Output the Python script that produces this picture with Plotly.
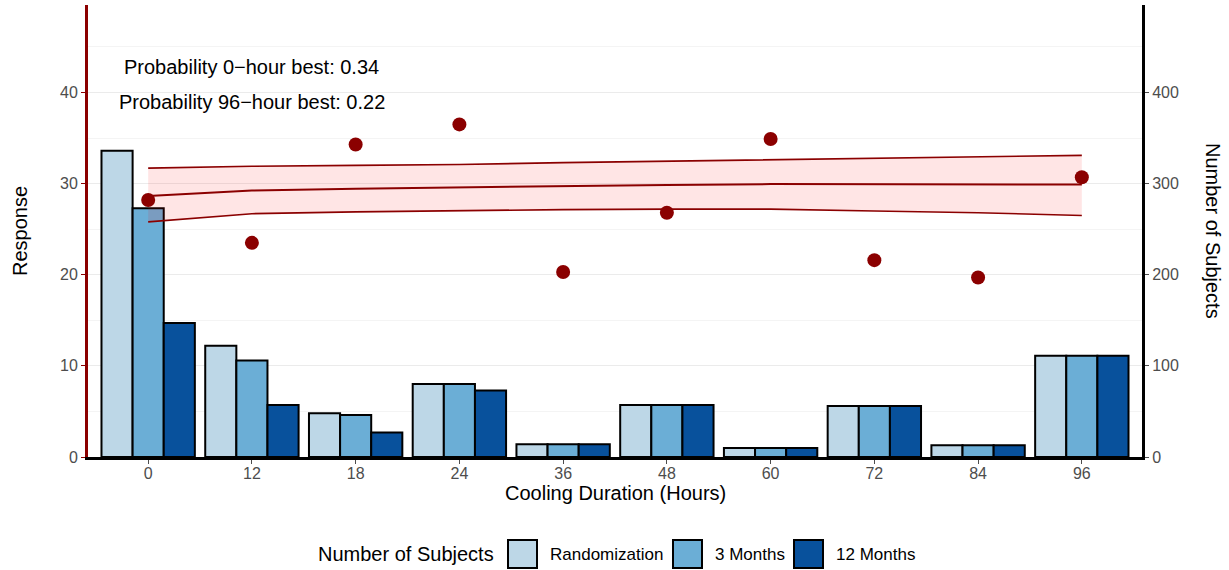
import plotly.graph_objects as go

# --- data -------------------------------------------------------------
hours = ["0", "12", "18", "24", "36", "48", "60", "72", "84", "96"]
positions = list(range(len(hours)))

groups = ["Randomization", "3 Months", "12 Months"]
subjects_randomization = [336, 122, 48, 80, 14, 57, 10, 56, 13, 111]
subjects_3_months = [273, 106, 46, 80, 14, 57, 10, 56, 13, 111]
subjects_12_months = [147, 57, 27, 73, 14, 57, 10, 56, 13, 111]

response_observed = [28.2, 23.5, 34.3, 36.5, 20.3, 26.8, 34.9, 21.6, 19.7, 30.7]
fit_mean = [28.65, 29.25, 29.45, 29.6, 29.75, 29.85, 29.95, 29.95, 29.9, 29.9]
fit_upper = [31.7, 31.9, 32.0, 32.1, 32.3, 32.45, 32.6, 32.75, 32.9, 33.1]
fit_lower = [25.8, 26.7, 26.9, 27.05, 27.15, 27.2, 27.2, 27.0, 26.8, 26.5]

prob_labels = ["Probability 0\u2212hour best: 0.34", "Probability 96\u2212hour best: 0.22"]

# --- styling ----------------------------------------------------------
BLUES = {"Randomization": "#BDD7E7", "3 Months": "#6BAED6", "12 Months": "#08519C"}
DARKRED = "#8B0000"
FONT = "Liberation Sans, Arial, sans-serif"
GREY = "#4D4D4D"

W, H = 1229, 570
ML, MR, MT, MB = 88, 87, 5, 113
PW, PH = W - ML - MR, H - MT - MB


def px_x(x):
    return (x - ML) / PW


def px_y(y):
    return (H - MB - y) / PH


fig = go.Figure()

for name, vals in zip(groups, [subjects_randomization, subjects_3_months, subjects_12_months]):
    fig.add_trace(go.Bar(
        x=positions, y=vals, name=name, yaxis="y", showlegend=False,
        marker=dict(color=BLUES[name], line=dict(color="black", width=2)),
    ))

# ribbon + fitted line on the response axis (drawn above bars)
fig.add_trace(go.Scatter(x=positions, y=fit_lower, yaxis="y2", mode="lines",
                         line=dict(color=DARKRED, width=1.6), showlegend=False))
fig.add_trace(go.Scatter(x=positions, y=fit_upper, yaxis="y2", mode="lines",
                         line=dict(color=DARKRED, width=1.6), fill="tonexty",
                         fillcolor="rgba(255,0,0,0.1)", showlegend=False))
fig.add_trace(go.Scatter(x=positions, y=fit_mean, yaxis="y2", mode="lines",
                         line=dict(color=DARKRED, width=2), showlegend=False))
fig.add_trace(go.Scatter(x=positions, y=response_observed, yaxis="y2", mode="markers",
                         marker=dict(color=DARKRED, size=14), showlegend=False))

for txt, yv in zip(prob_labels, [42.8, 39.0]):
    fig.add_annotation(x=1, y=yv, xref="x", yref="y2", text=txt, showarrow=False,
                       font=dict(size=20, color="black", family=FONT))

# axis titles
fig.add_annotation(x=0, xref="paper", xanchor="center", xshift=-68, y=0.5, yref="paper",
                   text="Response", textangle=-90, showarrow=False,
                   font=dict(size=20, color="black"))
fig.add_annotation(x=1, xref="paper", xanchor="center", xshift=71, y=0.5, yref="paper",
                   text="Number of Subjects", textangle=90, showarrow=False,
                   font=dict(size=20, color="black"))
fig.add_annotation(x=0.5, xref="paper", y=px_y(493), yref="paper", yanchor="middle",
                   text="Cooling Duration (Hours)", showarrow=False,
                   font=dict(size=20, color="black"))

# legend drawn by hand (ggplot-style keys)
fig.add_annotation(x=px_x(496), xref="paper", xanchor="right", y=px_y(554), yref="paper",
                   yanchor="middle", text="Number of Subjects", showarrow=False,
                   font=dict(size=20, color="black"))
key_left = [508, 673, 794]
for name, kx in zip(groups, key_left):
    fig.add_shape(type="rect", xref="paper", yref="paper",
                  x0=px_x(kx), x1=px_x(kx + 29), y0=px_y(568), y1=px_y(540),
                  fillcolor=BLUES[name], line=dict(color="black", width=2))
    fig.add_annotation(x=px_x(kx + 40), xref="paper", xanchor="left", y=px_y(554), yref="paper",
                       yanchor="middle", text=name, showarrow=False,
                       font=dict(size=17, color="black"))

fig.update_layout(
    width=W, height=H,
    paper_bgcolor="white", plot_bgcolor="white",
    font=dict(family=FONT, color="black"),
    margin=dict(l=ML, r=MR, t=MT, b=MB, autoexpand=False),
    barmode="group", bargap=0.1, bargroupgap=0,
    showlegend=False,
    xaxis=dict(
        range=[-0.58, 9.58], tickvals=positions, ticktext=hours,
        showgrid=False, zeroline=False, automargin=False,
        showline=True, linecolor="black", linewidth=3,
        ticks="outside", ticklen=4, tickcolor=GREY, ticklabelstandoff=-4,
        tickfont=dict(size=16, color=GREY),
    ),
    yaxis=dict(
        side="right", range=[0, 496], tickvals=[0, 100, 200, 300, 400],
        showgrid=True, gridcolor="#EBEBEB", gridwidth=1.2,
        minor=dict(showgrid=True, tickvals=[50, 150, 250, 350, 450], gridcolor="#F4F4F4", gridwidth=1),
        zeroline=False, automargin=False, showline=True, linecolor="black", linewidth=3,
        ticks="outside", ticklen=4, tickcolor=GREY,
        tickfont=dict(size=16, color=GREY),
    ),
    yaxis2=dict(
        overlaying="y", side="left", range=[0, 49.6], tickvals=[0, 10, 20, 30, 40],
        showgrid=False, zeroline=False, automargin=False,
        showline=True, linecolor=DARKRED, linewidth=3,
        ticks="outside", ticklen=4, tickcolor=DARKRED,
        tickfont=dict(size=16, color=GREY),
    ),
)

fig.write_html("out.html", config={"displayModeBar": False},
               post_script="document.body.style.margin='0';")
